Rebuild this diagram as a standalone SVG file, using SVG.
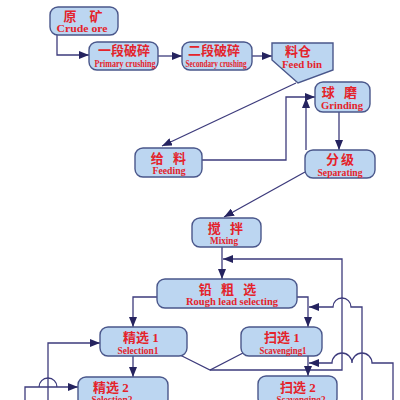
<svg xmlns="http://www.w3.org/2000/svg" width="400" height="400" viewBox="0 0 400 400">
<defs>
<style>
.box{fill:#bcd6f1;stroke:#4a578b;stroke-width:1.4}
.zh{font-family:"Liberation Serif","Noto Sans CJK SC",serif;font-weight:bold;font-size:13px;fill:#e4232b;text-anchor:middle}
.en{font-family:"Liberation Serif",serif;font-weight:bold;font-size:10px;fill:#e4232b;text-anchor:middle}
.ln{fill:none;stroke:#3d3b7c;stroke-width:1.3}
</style>
<marker id="ah" markerUnits="userSpaceOnUse" markerWidth="11" markerHeight="8" refX="10" refY="4" orient="auto">
<path d="M0,0 L10,4 L0,8 z" fill="#25235f"/>
</marker>
</defs>
<rect width="400" height="400" fill="#ffffff"/>
<g id="connectors" class="ln">
<path d="M57,35 V55 H89" marker-end="url(#ah)"/>
<path d="M158,56 H182" marker-end="url(#ah)"/>
<path d="M252,56 H272" marker-end="url(#ah)"/>
<path d="M296,83 L162,146" marker-end="url(#ah)"/>
<path d="M202,160 H286 V97 H315" marker-end="url(#ah)"/>
<path d="M306,150 V98" marker-end="url(#ah)"/>
<path d="M339,112 V150" marker-end="url(#ah)"/>
<path d="M305,172 L224,217" marker-end="url(#ah)"/>
<path d="M222,247 V279" marker-end="url(#ah)"/>
<path d="M180,355 L210,370 L243,353"/>
<path d="M210,370 H342 V259 H223" marker-end="url(#ah)"/>
<path d="M157,297 H133 V327" marker-end="url(#ah)"/>
<path d="M297,297 H308 V327" marker-end="url(#ah)"/>
<path d="M362,400 V307 H351 A9,9 0 0 0 333,307 H309" marker-end="url(#ah)"/>
<path d="M393,400 V363 H372 A10,10 0 0 0 352,363 A10,10 0 0 0 332,363 H309" marker-end="url(#ah)"/>
<path d="M308,356 V376" marker-end="url(#ah)"/>
<path d="M133,356 V377" marker-end="url(#ah)"/>
<path d="M48,400 V343 H100" marker-end="url(#ah)"/>
<path d="M25,400 V387 H57 A9,9 0 0 0 39,387 H78" marker-end="url(#ah)"/>
</g>
<g id="crude-ore">
<rect class="box" x="50" y="7" width="68" height="28" rx="8"/>
<text class="zh" x="83" y="21" font-size="13.5">原　矿</text>
<text class="en" x="82" y="32" font-size="11" textLength="51" lengthAdjust="spacingAndGlyphs">Crude ore</text>
</g>
<g id="primary-crushing">
<rect class="box" x="89" y="42" width="69" height="28" rx="8"/>
<text class="zh" x="124" y="55" font-size="13.5">一段破碎</text>
<text class="en" x="125" y="67" textLength="61" lengthAdjust="spacingAndGlyphs">Primary crushing</text>
</g>
<g id="secondary-crushing">
<rect class="box" x="182" y="42" width="70" height="28" rx="8"/>
<text class="zh" x="214" y="55" font-size="13.5">二段破碎</text>
<text class="en" x="216" y="66.5" font-size="8.5" textLength="61" lengthAdjust="spacingAndGlyphs">Secondary crushing</text>
</g>
<g id="feed-bin">
<path class="box" d="M272,43 H333 V70 L298,83 L272,60 Z"/>
<text class="zh" x="298" y="56">料仓</text>
<text class="en" x="302" y="68" font-size="10.5" textLength="40" lengthAdjust="spacingAndGlyphs">Feed bin</text>
</g>
<g id="grinding">
<rect class="box" x="315" y="82" width="55" height="30" rx="8"/>
<text class="zh" x="341" y="97" letter-spacing="3">球 磨</text>
<text class="en" x="342" y="109" font-size="11" textLength="42" lengthAdjust="spacingAndGlyphs">Grinding</text>
</g>
<g id="feeding">
<rect class="box" x="135" y="148" width="67" height="29" rx="8"/>
<text class="zh" x="170" y="163" letter-spacing="3">给 料</text>
<text class="en" x="169" y="174" textLength="33" lengthAdjust="spacingAndGlyphs">Feeding</text>
</g>
<g id="separating">
<rect class="box" x="305" y="150" width="70" height="28" rx="8"/>
<text class="zh" x="341" y="164" letter-spacing="2">分级</text>
<text class="en" x="340" y="176" textLength="45" lengthAdjust="spacingAndGlyphs">Separating</text>
</g>
<g id="mixing">
<rect class="box" x="192" y="218" width="69" height="29" rx="8"/>
<text class="zh" x="227" y="233" letter-spacing="3">搅 拌</text>
<text class="en" x="224" y="244" textLength="28" lengthAdjust="spacingAndGlyphs">Mixing</text>
</g>
<g id="rough-lead-selecting">
<rect class="box" x="157" y="279" width="140" height="29" rx="8"/>
<text class="zh" x="229" y="294" letter-spacing="3">铅 粗 选</text>
<text class="en" x="232" y="305" font-size="9.5" textLength="92" lengthAdjust="spacingAndGlyphs">Rough lead selecting</text>
</g>
<g id="selection1">
<rect class="box" x="100" y="327" width="87" height="29" rx="8"/>
<text class="zh" x="141" y="342">精选 1</text>
<text class="en" x="138" y="354" font-size="9" textLength="41" lengthAdjust="spacingAndGlyphs">Selection1</text>
</g>
<g id="scavenging1">
<rect class="box" x="241" y="327" width="81" height="29" rx="8"/>
<text class="zh" x="282" y="342">扫选 1</text>
<text class="en" x="283" y="354" font-size="9" textLength="47" lengthAdjust="spacingAndGlyphs">Scavenging1</text>
</g>
<g id="selection2">
<rect class="box" x="78" y="377" width="90" height="30" rx="8"/>
<text class="zh" x="111" y="392">精选 2</text>
<text class="en" x="112" y="403" font-size="9" textLength="41" lengthAdjust="spacingAndGlyphs">Selection2</text>
</g>
<g id="scavenging2">
<rect class="box" x="258" y="376" width="79" height="30" rx="8"/>
<text class="zh" x="298" y="392">扫选 2</text>
<text class="en" x="301" y="403" font-size="9" textLength="49" lengthAdjust="spacingAndGlyphs">Scavenging2</text>
</g>
</svg>
